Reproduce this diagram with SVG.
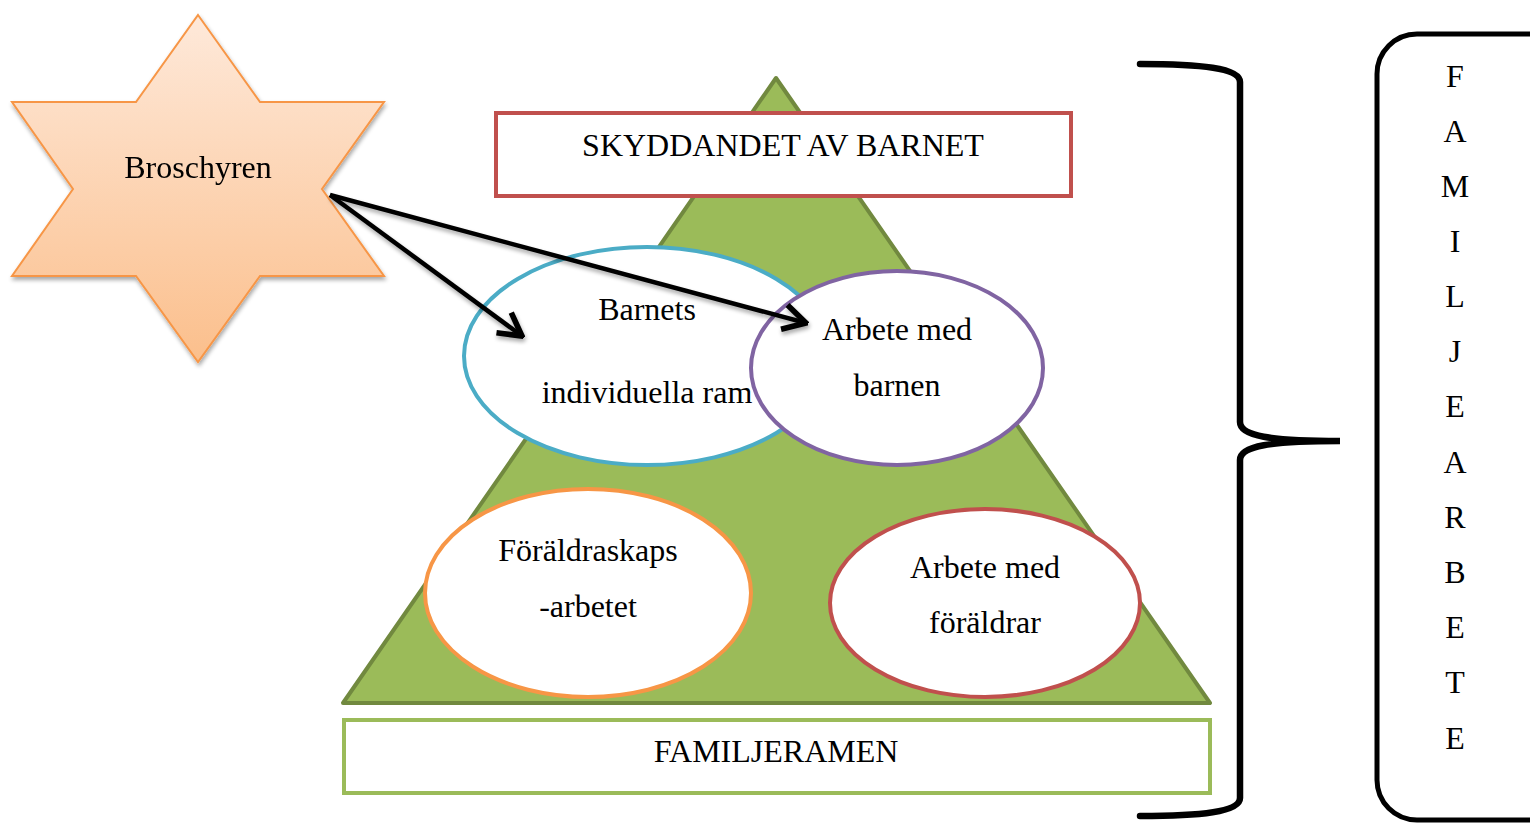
<svg xmlns="http://www.w3.org/2000/svg" width="1530" height="823" viewBox="0 0 1530 823">
<style>
text{font-family:"Liberation Serif","Times New Roman",serif;font-size:32px;fill:#000;text-anchor:middle}
.ell{fill:#fff;stroke-width:4}
.conn{stroke:#000;stroke-width:4.5;fill:none;marker-end:url(#vh)}
</style>
<defs>
<linearGradient id="starg" x1="0" y1="0" x2="0" y2="1">
<stop offset="0" stop-color="#FEE9DA"/>
<stop offset="1" stop-color="#FBBF8C"/>
</linearGradient>
<filter id="sh" x="-10%" y="-10%" width="130%" height="130%">
<feGaussianBlur in="SourceAlpha" stdDeviation="2"/>
<feOffset dx="1" dy="3" result="b"/>
<feComponentTransfer><feFuncA type="linear" slope="0.35"/></feComponentTransfer>
<feMerge><feMergeNode/><feMergeNode in="SourceGraphic"/></feMerge>
</filter>
<marker id="vh" markerUnits="userSpaceOnUse" markerWidth="30" markerHeight="30" viewBox="0 0 24 24" refX="22" refY="12" orient="auto">
<path d="M4,2 L22,12 L4,22" fill="none" stroke="#000" stroke-width="4.5" stroke-linejoin="miter"/>
</marker>
</defs>

<g id="star" filter="url(#sh)">
<polygon points="198,15 260,102 384,102 322,189 384,276 260,276 198,362 136,276 12,276 73,189 12,102 136,102" fill="url(#starg)" stroke="#F79646" stroke-width="2"/>
<text x="198" y="178">Broschyren</text>
</g>

<g id="pyramid">
<polygon points="776,78 1210,703 343,703" fill="#9BBB59" stroke="#71893F" stroke-width="4" stroke-linejoin="round"/>
</g>

<g id="skyddandet">
<rect x="496" y="113" width="575" height="83" fill="#fff" stroke="#C0504D" stroke-width="4"/>
<text x="783" y="156">SKYDDANDET AV BARNET</text>
</g>

<g id="barnets">
<ellipse cx="647" cy="356" rx="183" ry="109" class="ell" stroke="#4BACC6"/>
<text x="647" y="320">Barnets</text>
<text x="647" y="403">individuella ram</text>
</g>

<g id="arbete-barnen">
<ellipse cx="897" cy="368" rx="146" ry="97" class="ell" stroke="#8064A2"/>
<text x="897" y="340">Arbete med</text>
<text x="897" y="396">barnen</text>
</g>

<g id="foraldraskaps">
<ellipse cx="588" cy="593" rx="163" ry="104" class="ell" stroke="#F79646"/>
<text x="588" y="561">Föräldraskaps</text>
<text x="588" y="617">-arbetet</text>
</g>

<g id="arbete-foraldrar">
<ellipse cx="985" cy="603" rx="155" ry="94" class="ell" stroke="#C0504D"/>
<text x="985" y="578">Arbete med</text>
<text x="985" y="633">föräldrar</text>
</g>

<g id="familjeramen">
<rect x="344" y="720" width="866" height="73" fill="#fff" stroke="#9BBB59" stroke-width="4"/>
<text x="776" y="762">FAMILJERAMEN</text>
</g>

<g id="connectors" filter="url(#sh)">
<line class="conn" x1="330" y1="195" x2="522" y2="336"/>
<line class="conn" x1="330" y1="195" x2="806" y2="323"/>
</g>

<g id="brace">
<path d="M1140,64 C1200,64 1240,68 1240,82 L1240,422 C1240,436 1270,441 1340,441 C1270,441 1240,446 1240,460 L1240,798 C1240,812 1200,816 1140,816" fill="none" stroke="#000" stroke-width="6.5" stroke-linecap="round"/>
</g>

<g id="familjearbete">
<rect x="1377" y="34" width="200" height="786" rx="40" ry="40" fill="#fff" stroke="#000" stroke-width="5"/>
<text x="1455" y="87">F</text>
<text x="1455" y="142">A</text>
<text x="1455" y="197">M</text>
<text x="1455" y="252">I</text>
<text x="1455" y="307">L</text>
<text x="1455" y="362">J</text>
<text x="1455" y="417">E</text>
<text x="1455" y="473">A</text>
<text x="1455" y="528">R</text>
<text x="1455" y="583">B</text>
<text x="1455" y="638">E</text>
<text x="1455" y="693">T</text>
<text x="1455" y="749">E</text>
</g>
</svg>
